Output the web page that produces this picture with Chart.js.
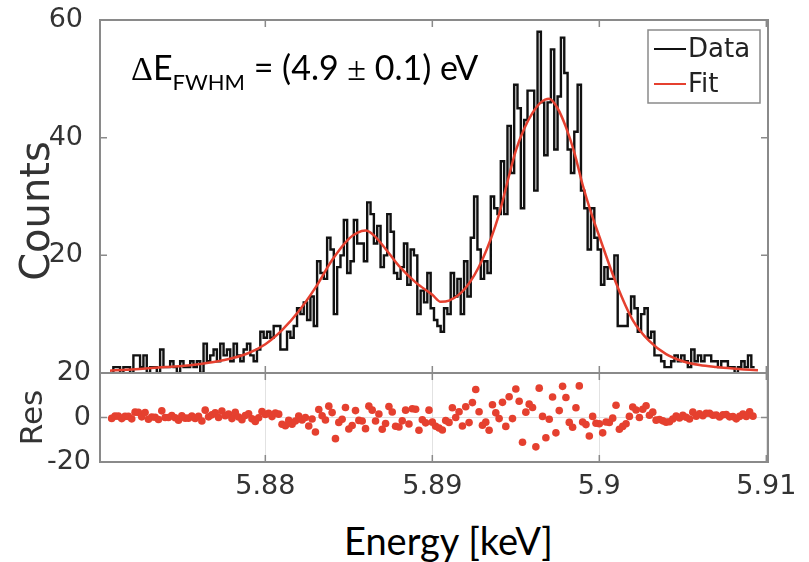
<!DOCTYPE html>
<html>
<head>
<meta charset="utf-8">
<script src="https://cdn.jsdelivr.net/npm/chart.js@4.4.0/dist/chart.umd.min.js"></script>
<style>
  html, body { margin: 0; padding: 0; background: #fff; }
  #wrap { position: relative; width: 809px; height: 562px; overflow: hidden; }
  #spec { position: absolute; left: 0; top: 0; }
  #res { position: absolute; left: 0; top: 350px; }
  .note { position: absolute; font-family: Lato, "Open Sans", sans-serif; color: #000; white-space: nowrap; line-height: 1; }
  .sym { font-family: "Liberation Serif", serif; }
  #ylabel { position: absolute; left: -65px; top: 191px; width: 200px; height: 40px;
            font-family: "DejaVu Sans", sans-serif; font-size: 40px; line-height: 40px;
            text-align: center; color: #333; white-space: nowrap; transform: rotate(-90deg); }
</style>
</head>
<body>
<div id="wrap">
  <canvas id="spec" width="809" height="380"></canvas>
  <canvas id="res" width="809" height="160"></canvas>
  <div id="ylabel">Counts</div>
  <div class="note" id="fwhm" style="left:131px; top:50px; font-size:34px;"><span class="sym">Δ</span>E<span style="font-size:22px; position:relative; top:10px;">FWHM</span> = (4.9 <span class="sym">±</span> 0.1) eV</div>
  <div class="note" id="xlabel" style="left:344px; top:521px; font-size:38px;">Energy [keV]</div>
</div>
<script>
// histogram binning in keV
const binStart = 5.8707;
const binWidth = 0.0002;

const counts = [
  0, 1, 1, 0, 1, 1, 0, 3, 3, 1,
  3, 0, 1, 1, 0, 4, 1, 1, 2, 1,
  0, 2, 1, 1, 2, 1, 2, 0, 5, 2,
  3, 4, 2, 5, 3, 4, 2, 5, 3, 2,
  4, 5, 3, 2, 4, 7, 6, 7, 6, 8,
  8, 4, 4, 7, 6, 8, 11, 10, 12, 9,
  13, 8, 19, 17, 16, 23, 21, 10, 18, 20,
  26, 17, 19, 26, 22, 22, 19, 29, 27, 22,
  25, 18, 20, 27, 24, 17, 16, 18, 22, 15,
  21, 20, 10, 14, 12, 17, 11, 9, 8, 7,
  11, 10, 17, 13, 16, 10, 19, 13, 23, 30,
  21, 16, 19, 17, 30, 28, 27, 36, 27, 42,
  34, 49, 45, 28, 43, 48, 48, 31, 58, 46,
  37, 46, 55, 38, 47, 57, 51, 38, 34, 41,
  49, 31, 28, 21, 28, 23, 21, 15, 18, 16,
  16, 20, 8, 8, 8, 10, 13, 11, 7, 10,
  11, 6, 7, 3, 3, 2, 1, 1, 2, 3,
  2, 3, 2, 1, 4, 2, 3, 2, 3, 3,
  2, 2, 1, 2, 2, 1, 1, 0, 1, 2,
  1, 3, 1
];

// data minus fit, one value per bin
const residuals = [
  -0.4, 0.6, 0.6, -0.5, 0.5, 0.5, -0.6, 2.4, 2.3, 0.3,
  2.2, -0.8, 0.2, 0.1, -0.9, 3.0, 0.0, 0.0, 0.9, -0.1,
  -1.2, 0.8, -0.3, -0.3, 0.6, -0.4, 0.5, -1.6, 3.3, 0.3,
  1.2, 2.1, 0.0, 2.9, 0.8, 1.6, -0.5, 2.3, 0.2, -1.0,
  0.9, 1.7, -0.6, -1.8, -0.1, 2.7, 1.4, 1.9, 0.4, 2.0,
  1.5, -3.0, -3.7, -1.3, -3.0, -1.6, 0.7, -1.1, 0.0, -3.8,
  -0.7, -6.5, 3.6, 0.8, -1.1, 5.1, 2.2, -9.5, -2.2, -0.8,
  4.5, -5.2, -3.6, 3.1, -1.3, -1.6, -5.0, 5.1, 3.3, -1.6,
  1.6, -5.3, -2.7, 4.9, 2.5, -3.9, -4.3, -1.5, 3.3, -2.9,
  3.9, 3.7, -5.7, -1.0, -2.4, 3.3, -2.1, -3.9, -4.7, -5.6,
  -1.4, -2.2, 4.4, 0.0, 2.6, -3.8, 4.8, -2.3, 6.7, 12.6,
  2.6, -3.5, -2.1, -5.7, 5.7, 2.1, -0.5, 6.8, -4.0, 9.3,
  -0.5, 12.8, 7.3, -11.1, 2.4, 6.0, 4.5, -13.2, 13.2, 0.5,
  -9.1, -0.8, 9.2, -6.9, 3.1, 14.0, 9.0, -2.2, -4.4, 4.4,
  14.2, -2.0, -3.2, -8.3, 0.5, -2.6, -2.8, -6.9, -2.0, -2.2,
  -0.3, 5.5, -5.3, -4.0, -2.8, 0.5, 4.7, 3.4, 0.0, 3.7,
  5.3, 1.0, 2.4, -1.2, -0.9, -1.5, -2.1, -1.9, -0.7, 0.6,
  -0.2, 1.0, 0.1, -0.7, 2.4, 0.6, 1.7, 0.8, 1.9, 1.9,
  1.0, 1.1, 0.2, 1.2, 1.3, 0.3, 0.4, -0.6, 0.5, 1.5,
  0.5, 2.55, 0.6
];

// fitted double-peak model sampled along the energy axis
const fitEnergy = [
  5.8707, 5.871, 5.872, 5.873, 5.874, 5.875, 5.876, 5.877, 5.878, 5.879,
  5.880, 5.881, 5.882, 5.883, 5.884, 5.885, 5.8855, 5.886, 5.8865, 5.887,
  5.8875, 5.888, 5.889, 5.890, 5.8905, 5.891, 5.892, 5.893, 5.894, 5.8945,
  5.895, 5.8955, 5.896, 5.8965, 5.897, 5.8975, 5.898, 5.8985, 5.899, 5.8995,
  5.900, 5.901, 5.902, 5.903, 5.904, 5.905, 5.906, 5.907, 5.908, 5.909,
  5.9095
];
const fitCounts = [
  0.4, 0.45, 0.6, 0.8, 1.0, 1.2, 1.5, 1.9, 2.5, 3.4,
  4.9, 7.3, 10.5, 14.5, 19.2, 22.8, 23.8, 24.2, 23.4, 21.8,
  20.0, 18.2, 15.4, 13.3, 12.1, 12.3, 14.5, 19.3, 27.0, 32.5,
  37.8, 41.5, 44.2, 46.0, 46.6, 45.0, 41.8, 37.5, 32.0, 27.3,
  23.2, 15.3, 9.0, 5.4, 3.2, 2.0, 1.35, 1.0, 0.75, 0.55,
  0.45
];

const xTicks = [5.88, 5.89, 5.90, 5.91];
const xTickLabels = ['5.88', '5.89', '5.9', '5.91'];
const countTicks = [20, 40, 60];
const resTicks = [-20, 0, 20];

const xMin = 5.8701, xMax = 5.9101;
const frameColor = '#8a8a8a';
const textColor = '#333333';
const red = '#e5402f';

// stairs: each bin held from its left edge, last bin closed at its right edge
const histPoints = counts.map((c, i) => ({ x: binStart + i * binWidth, y: c }));
histPoints.push({ x: binStart + counts.length * binWidth, y: counts[counts.length - 1] });
const fitPoints = fitEnergy.map((e, i) => ({ x: e, y: fitCounts[i] }));
const resPoints = residuals.map((r, i) => ({ x: binStart + (i + 0.5) * binWidth, y: r }));

// box around the plot area plus inward tick marks on all four sides
const frameTicks = {
  id: 'frameTicks',
  afterDatasetsDraw(chart, args, opts) {
    const { ctx, chartArea: a, scales } = chart;
    ctx.save();
    ctx.strokeStyle = frameColor;
    ctx.lineWidth = 1.5;
    ctx.beginPath();
    opts.xs.forEach(v => {
      const px = scales.x.getPixelForValue(v);
      ctx.moveTo(px, a.bottom); ctx.lineTo(px, a.bottom - 7);
      ctx.moveTo(px, a.top); ctx.lineTo(px, a.top + 7);
    });
    opts.ys.forEach(v => {
      const py = scales.y.getPixelForValue(v);
      ctx.moveTo(a.left, py); ctx.lineTo(a.left + 7, py);
      ctx.moveTo(a.right, py); ctx.lineTo(a.right - 7, py);
    });
    ctx.stroke();
    ctx.lineWidth = 2;
    ctx.strokeRect(a.left, a.top, a.right - a.left, a.bottom - a.top);
    ctx.restore();
  }
};

// legend drawn as a framed box in the upper right corner of the plot
const boxLegend = {
  id: 'boxLegend',
  afterDraw(chart, args, opts) {
    const { ctx } = chart;
    ctx.save();
    ctx.fillStyle = '#fff';
    ctx.fillRect(opts.x, opts.y, opts.w, opts.h);
    ctx.strokeStyle = frameColor;
    ctx.lineWidth = 1.5;
    ctx.strokeRect(opts.x, opts.y, opts.w, opts.h);
    ctx.font = '26px "DejaVu Sans"';
    ctx.textBaseline = 'middle';
    chart.data.datasets.forEach((ds, i) => {
      const y = opts.y + 19 + i * 35;
      ctx.strokeStyle = ds.borderColor;
      ctx.lineWidth = 2;
      ctx.beginPath();
      ctx.moveTo(opts.x + 6, y);
      ctx.lineTo(opts.x + 38, y);
      ctx.stroke();
      ctx.fillStyle = '#222';
      ctx.fillText(ds.label, opts.x + 40, y + 1);
    });
    ctx.restore();
  }
};

// fixed-width y axis with no extra label overhang, so both panels line up
const fixY = s => { s.width = 100; s.paddingTop = 0; s.paddingBottom = 0; };

const tickFont = { family: 'DejaVu Sans', size: 27 };

new Chart(document.getElementById('spec'), {
  type: 'line',
  data: {
    datasets: [
      {
        label: 'Data',
        data: histPoints,
        borderColor: '#111111',
        borderWidth: 2.4,
        stepped: 'before',
        pointRadius: 0,
        fill: false,
        order: 2
      },
      {
        label: 'Fit',
        data: fitPoints,
        borderColor: red,
        borderWidth: 2.5,
        pointRadius: 0,
        cubicInterpolationMode: 'monotone',
        fill: false,
        order: 1
      }
    ]
  },
  options: {
    responsive: false,
    animation: false,
    layout: { padding: { top: 20, right: 41, bottom: 7, left: 0 } },
    plugins: {
      legend: { display: false },
      tooltip: { enabled: false },
      frameTicks: { xs: xTicks, ys: countTicks },
      boxLegend: { x: 648, y: 30, w: 112, h: 73 }
    },
    scales: {
      x: { type: 'linear', min: xMin, max: xMax, display: false },
      y: {
        min: 0,
        max: 60,
        afterBuildTicks: s => { s.ticks = countTicks.map(v => ({ value: v })); },
        afterFit: fixY,
        grid: { display: false },
        border: { display: false },
        ticks: { font: tickFont, color: textColor, padding: 9 }
      }
    }
  },
  plugins: [frameTicks, boxLegend]
});

new Chart(document.getElementById('res'), {
  type: 'scatter',
  data: {
    datasets: [{
      label: 'Res',
      data: resPoints,
      backgroundColor: red,
      borderWidth: 0,
      pointRadius: 3.8
    }]
  },
  options: {
    responsive: false,
    animation: false,
    layout: { padding: { top: 23, right: 41, bottom: 0, left: 0 } },
    plugins: {
      legend: { display: false },
      tooltip: { enabled: false },
      frameTicks: { xs: xTicks, ys: resTicks }
    },
    scales: {
      x: {
        type: 'linear',
        min: xMin,
        max: xMax,
        afterBuildTicks: s => { s.ticks = xTicks.map(v => ({ value: v })); },
        afterFit: s => { s.height = 48; },
        grid: { color: '#e2e2e2', drawTicks: false },
        border: { display: false },
        ticks: {
          font: tickFont,
          color: textColor,
          padding: 9,
          maxRotation: 0,
          autoSkip: false,
          callback: (v, i) => xTickLabels[i]
        }
      },
      y: {
        min: -20,
        max: 20,
        afterBuildTicks: s => { s.ticks = resTicks.map(v => ({ value: v })); },
        afterFit: fixY,
        grid: { color: '#e2e2e2', drawTicks: false },
        border: { display: false },
        ticks: { font: tickFont, color: textColor, padding: 9 },
        title: {
          display: true,
          text: 'Res',
          font: { family: 'DejaVu Sans', size: 31 },
          color: textColor,
          padding: { top: 15 }
        }
      }
    }
  },
  plugins: [frameTicks]
});
</script>
</body>
</html>
